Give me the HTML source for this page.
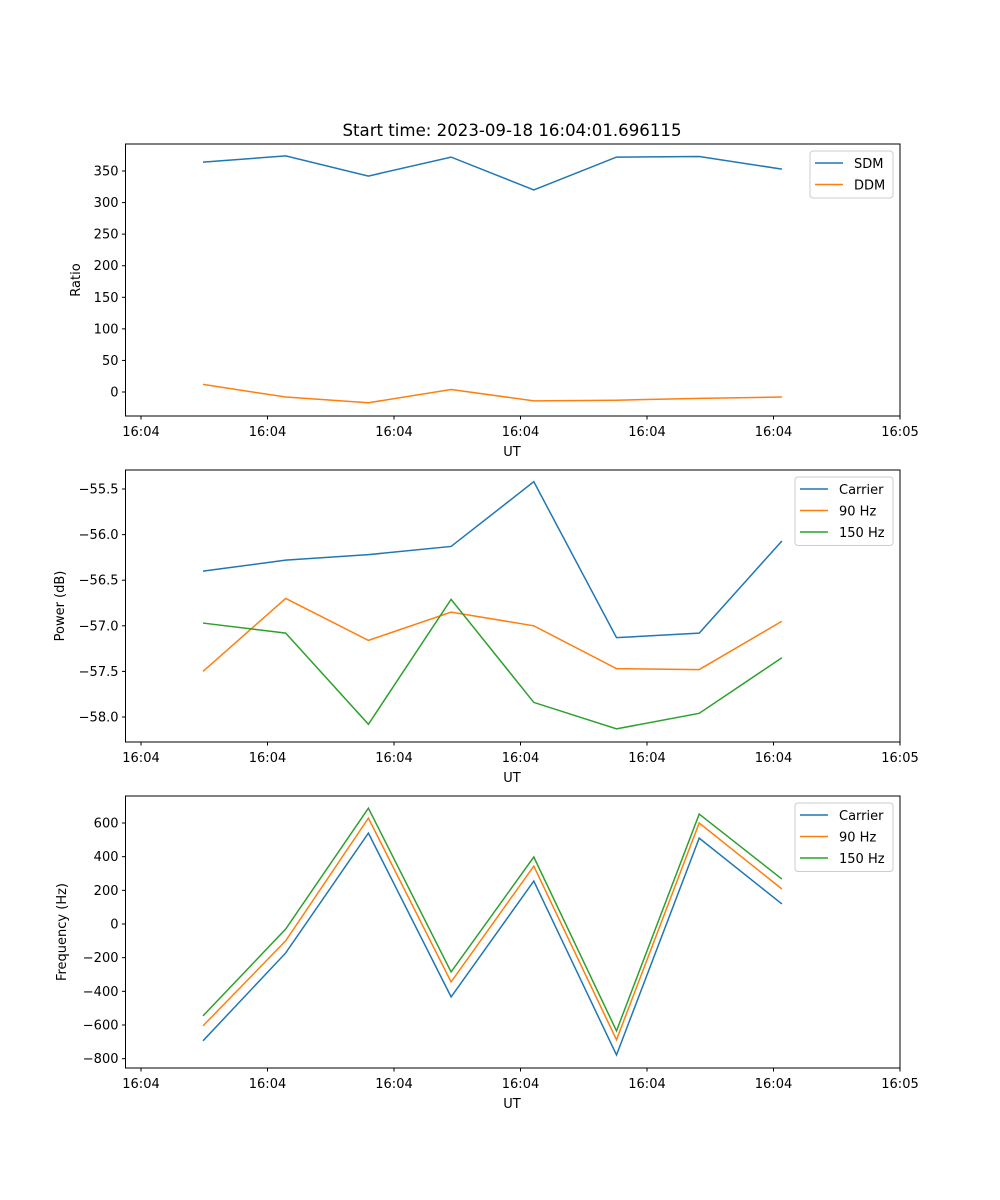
<!DOCTYPE html>
<html><head><meta charset="utf-8"><style>
body{margin:0;background:#fff}
svg{display:block;font-family:"DejaVu Sans","Liberation Sans",sans-serif}
</style></head><body>
<svg id="fig" width="1000" height="1200" viewBox="0 0 1000 1200" xmlns="http://www.w3.org/2000/svg">
<text x="512" y="136" font-size="16.6" text-anchor="middle">Start time: 2023-09-18 16:04:01.696115</text>
</svg>
<script>
const xIdx=[0,1,2,3,4,5,6,7];
const xTickLabels=["16:04","16:04","16:04","16:04","16:04","16:04","16:05"];
const sdm=[364,374,342,372,320,372,373,353];
const ddm=[12,-8,-17,4,-14,-13,-10,-8];
const pCarrier=[-56.40,-56.28,-56.22,-56.13,-55.42,-57.13,-57.08,-56.07];
const p90=[-57.50,-56.70,-57.16,-56.85,-57.00,-57.47,-57.48,-56.95];
const p150=[-56.97,-57.08,-58.08,-56.71,-57.84,-58.13,-57.96,-57.35];
const fCarrier=[-694,-172,540,-433,255,-778,510,119];
const f90=[-605,-100,629,-344,344,-688,600,208];
const f150=[-546,-30,688,-285,398,-635,653,267];
const ticks1=[0,50,100,150,200,250,300,350];
const ticks2=[-55.5,-56.0,-56.5,-57.0,-57.5,-58.0];
const ticks3=[600,400,200,0,-200,-400,-600,-800];

const NS="http://www.w3.org/2000/svg";
const svg=document.getElementById('fig');
function mk(t,a,p){const e=document.createElementNS(NS,t);for(const k in a)e.setAttribute(k,a[k]);(p||svg).appendChild(e);return e;}
const L=125.5,R=900;
const xs=i=>203+i*82.7;
const tickX=k=>141+126.5*k;
const C={b:'#1f77b4',o:'#ff7f0e',g:'#2ca02c'};

function panel(top,bot,v0,p0,v1,p1,ticks,fmt,ylabel,ylabx,series,leg,name){
  const ys=v=>p0+(v-v0)*(p1-p0)/(v1-v0);
  const g=mk('g',{});
  
  
  series.forEach(s=>{
    const pl=mk('polyline',{points:s.d.map((v,i)=>xs(xIdx[i])+','+ys(v)).join(' '),fill:'none',stroke:s.c,'stroke-width':1.5},g);
    
    
  });
  const fr=mk('rect',{x:L,y:top,width:R-L,height:bot-top,fill:'none',stroke:'#000','stroke-width':1},g);
  
  
  ticks.forEach(t=>{const y=ys(t);mk('line',{x1:L-3.5,x2:L,y1:y,y2:y,stroke:'#000'},g);
    const tx=mk('text',{x:L-7,y:y+4.5,'font-size':13,'text-anchor':'end'},g);tx.textContent=fmt(t);
    
    });
  xTickLabels.forEach((l,k)=>{const x=tickX(k);mk('line',{x1:x,x2:x,y1:bot,y2:bot+3.5,stroke:'#000'},g);
    const tx=mk('text',{x:x,y:bot+20,'font-size':13,'text-anchor':'middle'},g);tx.textContent=l;
    
    });
  const xl=mk('text',{x:512,y:bot+40,'font-size':13,'text-anchor':'middle'},g);xl.textContent='UT';
  
  
  const cy=(top+bot)/2;
  const yl=mk('text',{x:ylabx,y:cy,'font-size':13,'text-anchor':'middle',transform:`rotate(-90 ${ylabx} ${cy})`},g);yl.textContent=ylabel;
  
  
  const lb=mk('rect',{x:leg.x,y:top+7,width:893-leg.x,height:series.length*21.5+4,rx:3,fill:'#fff','fill-opacity':0.8,stroke:'#ccc'},g);
  
  
  series.forEach((s,i)=>{const y=top+19+i*21.5;
    mk('line',{x1:leg.x+5,x2:leg.x+33,y1:y,y2:y,stroke:s.c,'stroke-width':1.5},g);
    const t=mk('text',{x:leg.x+44,y:y+5,'font-size':13},g);t.textContent=s.n;
    
    });
}
panel(144,416,0,392,350,171,ticks1,v=>String(v),'Ratio',80,
  [{d:sdm,c:C.b,n:'SDM'},{d:ddm,c:C.o,n:'DDM'}],{x:810},'ratio-panel');
panel(470,742,-55.5,489,-58.0,717,ticks2,v=>'\u2212'+Math.abs(v).toFixed(1),'Power (dB)',64,
  [{d:pCarrier,c:C.b,n:'Carrier'},{d:p90,c:C.o,n:'90 Hz'},{d:p150,c:C.g,n:'150 Hz'}],{x:795},'power-panel');
panel(796,1068,0,924,600,823,ticks3,v=>(v<0?'\u2212':'')+Math.abs(v),'Frequency (Hz)',66,
  [{d:fCarrier,c:C.b,n:'Carrier'},{d:f90,c:C.o,n:'90 Hz'},{d:f150,c:C.g,n:'150 Hz'}],{x:795},'frequency-panel');
</script>
</body></html>
